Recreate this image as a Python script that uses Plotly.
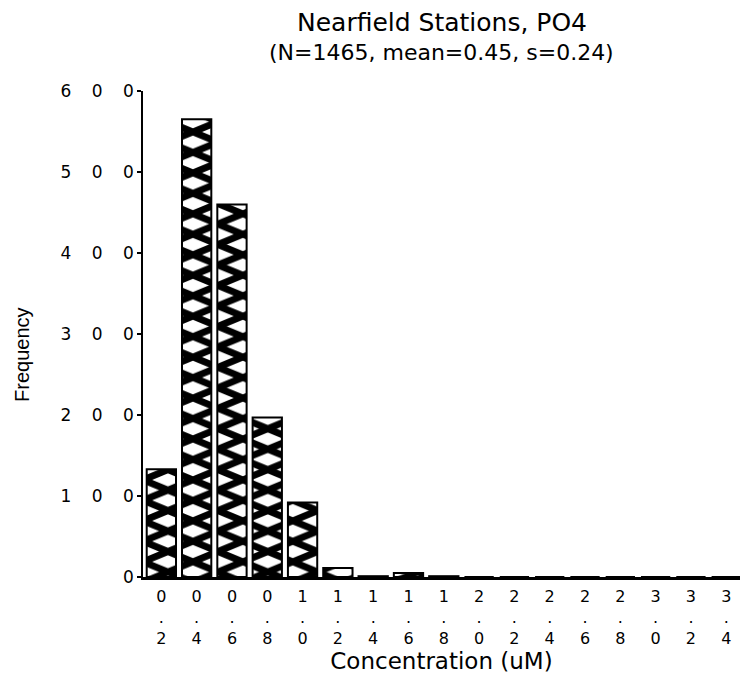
import plotly.graph_objects as go

# Histogram of PO4 concentrations at the nearfield stations
conc_bins = [0.2, 0.4, 0.6, 0.8, 1.0, 1.2, 1.4, 1.6, 1.8,
             2.0, 2.2, 2.4, 2.6, 2.8, 3.0, 3.2, 3.4]
frequency = [133, 565, 460, 197, 92, 11, 1, 5, 1,
             0, 0, 0, 0, 0, 0, 0, 0]
freq_ticks = [0, 100, 200, 300, 400, 500, 600]

title_text = "Nearfield Stations, PO4"
subtitle_text = "(N=1465, mean=0.45, s=0.24)"
x_title = "Concentration (uM)"
y_title = "Frequency"

FONT = "DejaVu Sans"
NARROW = "Liberation Sans Narrow, Arial Narrow, Liberation Sans, sans-serif"
DIGIT_GAP = "\u2003\u2009"


def stacked_label(v):
    whole, frac = f"{v:.1f}".split(".")
    return f"{whole}<br>.<br>{frac}"


def spaced_label(v):
    return DIGIT_GAP.join(str(v))


step = conc_bins[1] - conc_bins[0]

fig = go.Figure(
    go.Bar(
        x=conc_bins,
        y=frequency,
        width=step * 0.83,
        marker=dict(
            color="white",
            line=dict(color="black", width=2),
            pattern=dict(shape="x", fgcolor="black", bgcolor="white",
                         fgopacity=1, size=35.3, solidity=0.6),
        ),
        hoverinfo="x+y",
    )
)

fig.update_layout(
    width=740,
    height=679,
    margin=dict(l=143, r=0, t=91, b=102),
    paper_bgcolor="white",
    plot_bgcolor="white",
    showlegend=False,
    font=dict(family=FONT, color="black"),
    annotations=[
        dict(text=title_text, xref="paper", yref="paper", x=0.5, y=1,
             yshift=69, showarrow=False, xanchor="center", yanchor="middle",
             font=dict(family=FONT, size=25, color="black")),
        dict(text=subtitle_text, xref="paper", yref="paper", x=0.5, y=1,
             yshift=39, showarrow=False, xanchor="center", yanchor="middle",
             font=dict(family=FONT, size=22, color="black")),
        dict(text=y_title, xref="paper", yref="paper", x=-0.2027, y=0.459,
             textangle=-90, showarrow=False, xanchor="center", yanchor="middle",
             font=dict(family=NARROW, size=20, color="black")),
    ],
)

fig.update_xaxes(
    range=[conc_bins[0] - 0.52 * step, conc_bins[0] + 16.39 * step],
    tickvals=conc_bins,
    ticktext=[stacked_label(v) for v in conc_bins],
    tickfont=dict(family=FONT, size=16, color="black"),
    ticks="",
    ticklabelstandoff=3,
    showline=True, linecolor="black", linewidth=2.5,
    showgrid=False, zeroline=False,
    title=dict(text=x_title, font=dict(family=FONT, size=23, color="black"),
               standoff=2),
)

fig.update_yaxes(
    range=[0, 600],
    tickvals=freq_ticks,
    ticktext=[spaced_label(v) for v in freq_ticks],
    tickfont=dict(family=FONT, size=17, color="black"),
    ticks="outside", ticklen=4, tickwidth=1.5, tickcolor="black",
    showline=True, linecolor="black", linewidth=1.5,
    showgrid=False, zeroline=False,
)

# Squash the cross-hatch tiles vertically so the X marks are wider than tall
post = """
var gd = document.getElementById('{plot_id}');
gd.querySelectorAll('pattern').forEach(function (p) {
  p.setAttribute('patternTransform', 'scale(1, 0.41)');
});
"""

fig.write_html("out.html", post_script=post)
